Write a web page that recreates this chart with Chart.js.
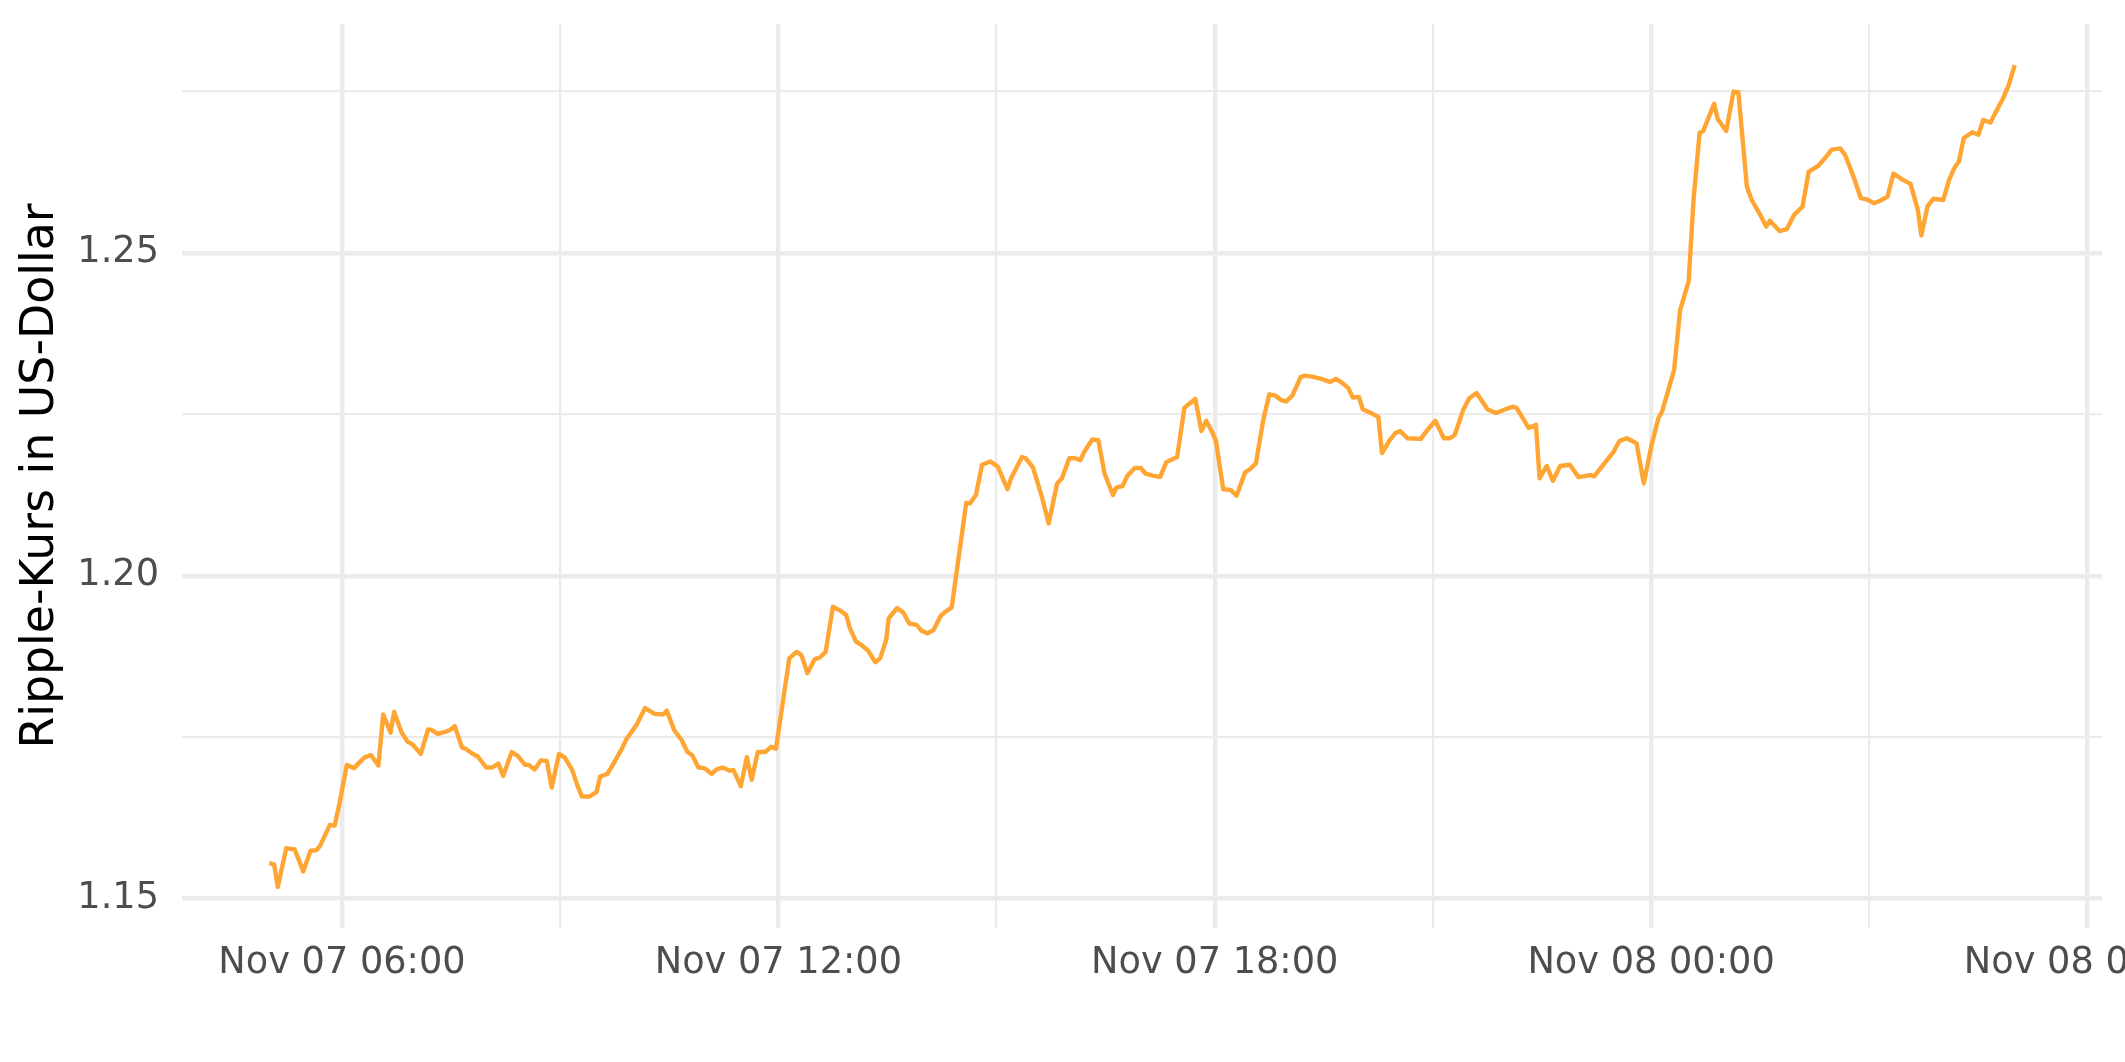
<!DOCTYPE html>
<html>
<head>
<meta charset="utf-8">
<script src="https://cdn.jsdelivr.net/npm/chart.js@4.4.0/dist/chart.umd.min.js"></script>
<style>
  html, body { margin: 0; padding: 0; background: #fff; overflow: hidden; }
  #wrap { width: 2125px; height: 1062px; position: relative; }
</style>
</head>
<body>
<div id="wrap"><canvas id="chart"></canvas></div>
<script>
// minutes since Nov 07 00:00
const times = [300,304,307,314,321,328,334,339,342,350,354,358,364,370,376,379,384,390,394,400,403,409,414,418,425,431,434,439,445,449,453,459,462,468,472,479,484,489,493,500,505,511,514,519,524,529,533,539,
  544,550,554,558,564,570,573,579,584,590,595,603,610,618,625,628,634,640,645,649,654,659,665,669,674,680,683,689,694,698,703,709,714,718,729,735,739,744,750,754,759,765,771,
  776,779,784,789,794,800,804,809,811,818,823,828,834,838,843,848,854,857,863,875,878,883,
  888,895,901,904,909,912,921,924,930,937,943,950,954,960,965,969,973,979,984,989,
  996,999,1004,1008,1014,1019,1023,1029,1035,1040,1049,1055,1058,1064,1069,1073,1078,1081,1087,1093,1098,1105,1109,1114,1120,1125,1130,1135,1139,1144,1151,1155,1161,1168,1175,1180,1185,1190,1194,1199,1202,1208,1215,1218,1224,1229,1233,
  1239,1250,1256,1262,1269,1274,1278,1285,1290,1296,1305,1312,1320,1326,1329,1339,1345,1348,1354,1359,1365,1373,1380,1384,1390,1393,1401,1409,1414,1420,1428,1434,1440,1446,1449,1459,
  1464,1471,1475,1480,1483,1492,1495,1502,1508,1512,1519,1523,1530,1535,1538,1546,1552,1558,1565,1570,1578,1584,1589,1596,
  1600,1607,1613,1618,1624,1629,1635,1640,1647,1654,1660,1663,1668,1673,1681,1686,1690,1694,1698,1705,1710,1714,1720,1724,1730,1735,1740];

const prices = [1.1555,1.1553,1.1518,1.1578,1.1576,1.1542,1.1574,1.1575,1.1582,1.1614,1.1613,1.1648,1.1707,1.1702,1.1714,1.1719,1.1722,1.1706,1.1785,1.1757,1.1789,1.1758,1.1743,1.1739,1.1724,1.1762,1.1761,1.1755,1.1758,1.1761,1.1767,1.1734,1.1732,1.1724,1.1720,1.1703,1.1703,1.1709,1.1690,1.1727,1.1721,1.1707,1.1707,1.1700,1.1714,1.1713,1.1672,1.1724,
  1.1718,1.1699,1.1676,1.1658,1.1658,1.1665,1.1689,1.1693,1.1709,1.1729,1.1748,1.1769,1.1795,1.1786,1.1785,1.1791,1.1761,1.1746,1.1727,1.1722,1.1703,1.1702,1.1693,1.1700,1.1703,1.1698,1.1699,1.1674,1.1719,1.1684,1.1727,1.1727,1.1735,1.1732,1.1872,1.1882,1.1877,1.1849,1.1871,1.1873,1.1882,1.1952,1.1946,
  1.1939,1.1919,1.1898,1.1892,1.1884,1.1866,1.1872,1.1901,1.1934,1.1950,1.1943,1.1926,1.1924,1.1915,1.1911,1.1916,1.1938,1.1943,1.1951,1.2113,1.2112,1.2125,
  1.2172,1.2177,1.2169,1.2156,1.2134,1.2151,1.2184,1.2182,1.2168,1.2125,1.2081,1.2143,1.2151,1.2182,1.2182,1.2179,1.2194,1.2211,1.2210,1.2159,
  1.2125,1.2137,1.2139,1.2155,1.2167,1.2167,1.2158,1.2155,1.2153,1.2176,1.2184,1.2260,1.2265,1.2274,1.2224,1.2240,1.2222,1.2209,1.2134,1.2133,1.2124,1.2160,1.2165,1.2174,1.2241,1.2281,1.2279,1.2272,1.2270,1.2279,1.2308,1.2310,1.2308,1.2305,1.2300,1.2305,1.2299,1.2291,1.2276,1.2277,1.2258,1.2253,1.2246,1.2190,1.2209,1.2221,1.2224,
  1.2213,1.2212,1.2227,1.2240,1.2213,1.2213,1.2218,1.2257,1.2275,1.2283,1.2258,1.2252,1.2258,1.2262,1.2260,1.2229,1.2234,1.2151,1.2170,1.2147,1.2170,1.2172,1.2153,1.2154,1.2156,1.2154,1.2173,1.2192,1.2209,1.2213,1.2205,1.2143,1.2199,1.2244,1.2254,1.2319,
  1.2412,1.2456,1.2582,1.2686,1.2689,1.2731,1.2707,1.2689,1.2750,1.2749,1.2603,1.2582,1.2559,1.2541,1.2550,1.2534,1.2537,1.2559,1.2572,1.2626,1.2635,1.2648,1.2660,1.2662,
  1.2652,1.2618,1.2585,1.2583,1.2577,1.2581,1.2587,1.2623,1.2614,1.2607,1.2567,1.2527,1.2572,1.2584,1.2582,1.2614,1.2631,1.2642,1.2678,1.2687,1.2683,1.2706,1.2702,1.2717,1.2738,1.2760,1.2791];

const xMajor = [360, 720, 1080, 1440, 1800];
const xMajorLabels = ['Nov 07 06:00', 'Nov 07 12:00', 'Nov 07 18:00', 'Nov 08 00:00', 'Nov 08 06:00'];
const xMinor = [540, 900, 1260, 1620];
const yMajor = [1.15, 1.20, 1.25];
const yMajorLabels = ['1.15', '1.20', '1.25'];
const yMinor = [1.175, 1.225, 1.275];

// ggplot-style 5% expansion
const expand = (arr) => {
  const lo = Math.min(...arr), hi = Math.max(...arr), d = (hi - lo) * 0.05;
  return [lo - d, hi + d];
};
const [xMin, xMax] = expand(times);
const [yMin, yMax] = expand(prices);

const findIdx = (list, v) => list.findIndex(m => Math.abs(m - v) < 1e-9);
const gridW = (major) => (ctx) => (ctx.tick && findIdx(major, ctx.tick.value) >= 0) ? 4.4 : 2.2;

const points = times.map((t, i) => ({ x: t, y: prices[i] }));

const ctx = document.getElementById('chart').getContext('2d');
new Chart(ctx, {
  type: 'line',
  data: {
    datasets: [{
      data: points,
      borderColor: '#ffa533',
      borderWidth: 4.4,
      borderJoinStyle: 'round',
      pointRadius: 0,
      tension: 0,
      fill: false
    }]
  },
  options: {
    responsive: true,
    maintainAspectRatio: false,
    devicePixelRatio: 1,
    animation: false,
    layout: { autoPadding: false, padding: { top: 24, right: 23, bottom: 0, left: 0 } },
    plugins: { legend: { display: false }, tooltip: { enabled: false } },
    scales: {
      x: {
        type: 'linear',
        min: xMin,
        max: xMax,
        afterBuildTicks: (s) => { s.ticks = [...xMajor, ...xMinor].sort((a, b) => a - b).map(v => ({ value: v })); },
        afterFit: (s) => { s.height = 134; s.paddingLeft = 0; s.paddingRight = 0; },
        border: { display: false },
        grid: { color: '#ebebeb', lineWidth: gridW(xMajor), drawTicks: false },
        ticks: {
          autoSkip: false, maxRotation: 0, minRotation: 0, padding: 13,
          color: '#4d4d4d',
          font: { family: 'DejaVu Sans', size: 36.7, lineHeight: 1.2 },
          callback: (v) => { const i = findIdx(xMajor, v); return i >= 0 ? xMajorLabels[i] : ''; }
        }
      },
      y: {
        type: 'linear',
        min: yMin,
        max: yMax,
        afterBuildTicks: (s) => { s.ticks = [...yMajor, ...yMinor].sort((a, b) => a - b).map(v => ({ value: v })); },
        afterFit: (s) => { s.width = 182; s.paddingTop = 0; s.paddingBottom = 0; },
        border: { display: false },
        grid: { color: '#ebebeb', lineWidth: gridW(yMajor), drawTicks: false },
        ticks: {
          autoSkip: false, padding: 23,
          color: '#4d4d4d',
          font: { family: 'DejaVu Sans', size: 36.7, lineHeight: 1.2 },
          callback: (v) => { const i = findIdx(yMajor, v); return i >= 0 ? yMajorLabels[i] : ''; }
        },
        title: {
          display: true,
          text: 'Ripple-Kurs in US-Dollar',
          color: '#000000',
          font: { family: 'DejaVu Sans', size: 45.8, lineHeight: 1.2 },
          padding: { top: 14, bottom: 0 }
        }
      }
    }
  }
});
</script>
</body>
</html>
